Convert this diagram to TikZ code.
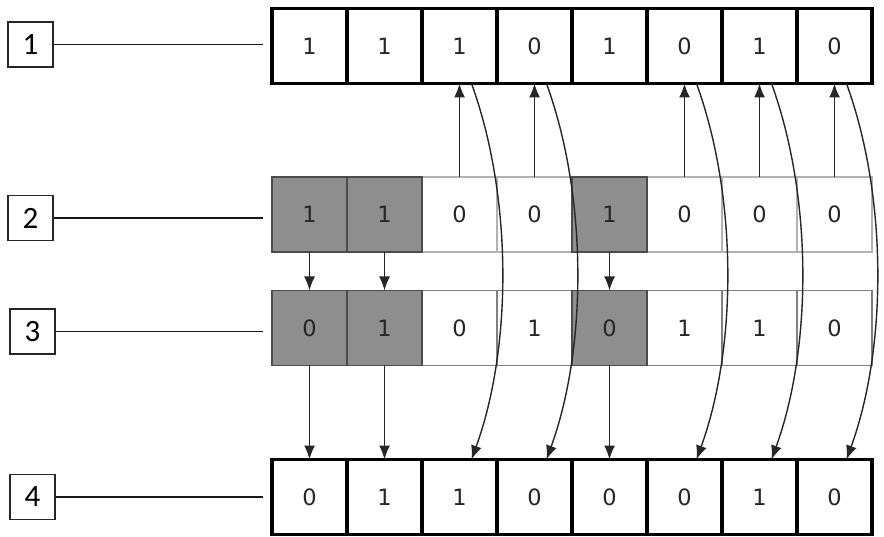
\documentclass[tikz,border=0pt]{standalone}
\usepackage{fontspec}
\setmainfont{DejaVu Sans}
\newfontfamily\labfont{Carlito}
\usetikzlibrary{arrows.meta}
\definecolor{cellgrey}{HTML}{8E8E8E}
\definecolor{txt}{HTML}{262626}
\tikzset{
  cellbase/.style={minimum width=75pt, minimum height=75pt, inner sep=0pt, outer sep=0pt,
     font=\fontsize{22.5}{22.5}\selectfont, text=txt},
  rowthick/.style={cellbase, draw=black, line width=3.5pt, fill=white},
  rowtwow/.style={cellbase, draw=black!30, line width=1.2pt, fill=white},
  rowthreew/.style={cellbase, draw=black!50, line width=1.2pt, fill=white},
  greycell/.style={cellbase, draw=black!70, line width=1.4pt, fill=cellgrey},
  labbox/.style={draw=black!85, line width=1.6pt, minimum width=45pt, minimum height=45pt,
     inner sep=0pt, font=\labfont\fontsize{31}{31}\selectfont},
  labline/.style={draw=black!90, line width=1.8pt},
  arr/.style={-{Latex[length=14pt,width=11pt]}, line width=1.5pt, draw=black!85},
  curvearr/.style={-{Latex[length=14pt,width=11pt]}, line width=1.4pt, draw=black!85}
}
\begin{document}
\begin{tikzpicture}[x=1pt,y=-1pt]
\useasboundingbox (0,0) rectangle (884,537);
% rows
\foreach \v [count=\i] in {1,1,1,0,1,0,1,0}
  \node[rowthick] (r1c\i) at (234.5+75*\i,46) {\v};
\foreach \i/\v in {3/0,4/0,6/0,7/0,8/0}
  \node[rowtwow] (r2c\i) at (234.5+75*\i,214.5) {\v};
\foreach \i/\v in {1/1,2/1,5/1}
  \node[greycell] (r2c\i) at (234.5+75*\i,214.5) {\v};
\foreach \i/\v in {3/0,4/1,6/1,7/1,8/0}
  \node[rowthreew] (r3c\i) at (234.5+75*\i,328) {\v};
\foreach \i/\v in {1/0,2/1,5/0}
  \node[greycell] (r3c\i) at (234.5+75*\i,328) {\v};
\foreach \v [count=\i] in {0,1,1,0,0,0,1,0}
  \node[rowthick] (r4c\i) at (234.5+75*\i,497) {\v};
% labels
\node[labbox] (l1) at (30.5,44.5) {1};
\node[labbox] (l2) at (30.5,218) {2};
\node[labbox] (l3) at (32.5,331.5) {3};
\node[labbox] (l4) at (32.5,497) {4};
\coordinate (e1) at (263,44.5);
\coordinate (e2) at (263,218);
\coordinate (e3) at (263,331.5);
\coordinate (e4) at (263,497);
\draw[labline] (l1.east) -- (e1);
\draw[labline] (l2.east) -- (e2);
\draw[labline] (l3.east) -- (e3);
\draw[labline, line width=2.8pt] (l4.east) -- (e4);
% straight arrows row 2 -> row 1
\foreach \i in {3,4,6,7,8}
  \draw[arr] (r2c\i.north) -- (r1c\i.south);
% row 2 -> row 3 and row 3 -> row 4
\foreach \i in {1,2,5} {
  \draw[arr] (r2c\i.south) -- (r3c\i.north);
  \draw[arr] (r3c\i.south) -- (r4c\i.north);
}
% curved arrows row 1 -> row 4
\foreach \i in {3,4,6,7,8}
  \draw[curvearr] ([xshift=12pt]r1c\i.south) .. controls +(41,113) and +(41,-113) .. ([xshift=12pt]r4c\i.north);
\end{tikzpicture}
\end{document}
